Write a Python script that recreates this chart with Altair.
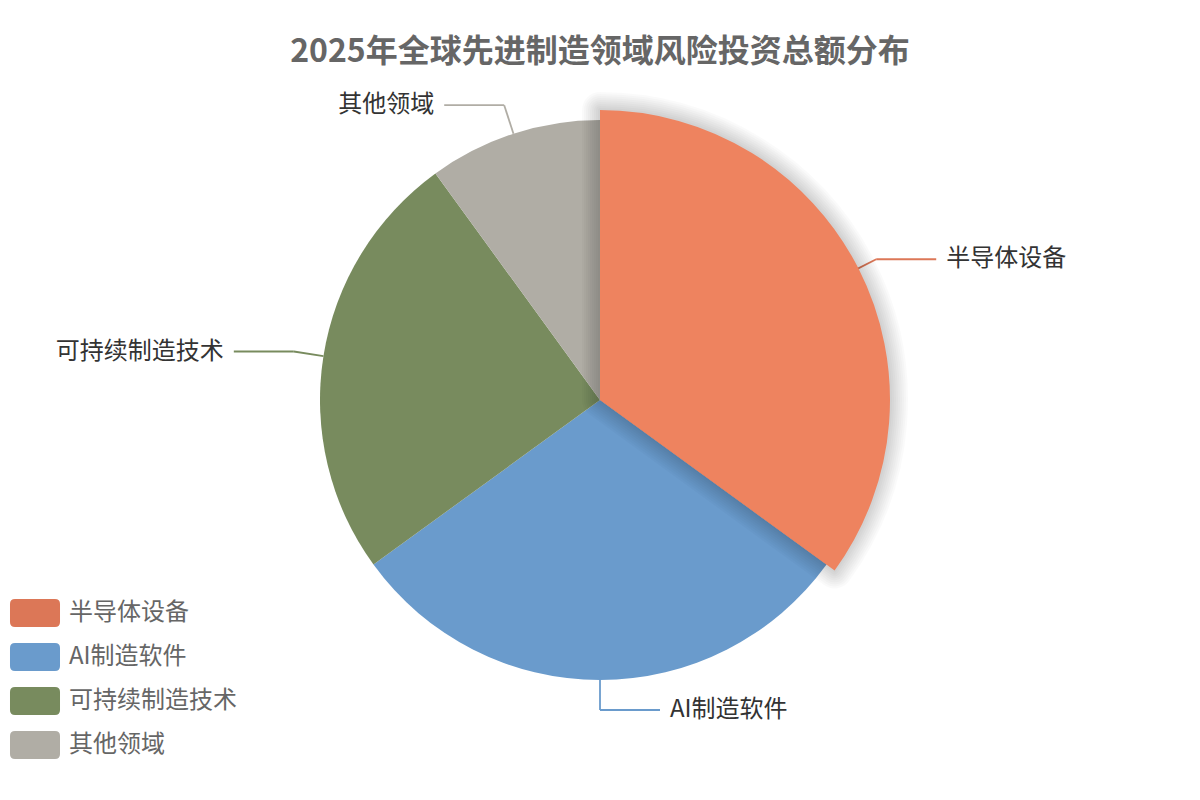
import json
import altair as alt
import pandas as pd

# ---- data ----
categories = ["半导体设备", "AI制造软件", "可持续制造技术", "其他领域"]
values = [35, 30, 25, 10]
base_colors = ["#DC7757", "#6A9BCC", "#788B5E", "#B0ADA5"]
highlight_color = "#EE835F"
title_text = "2025年全球先进制造领域风险投资总额分布"

# ---- layout / style ----
W, H = 1184, 784
CX, CY = W / 2, H / 2
R = 280
R_HI = 290
R_ELBOW = 310
LEG2 = 60
GAP = 10
FONT = "Noto Sans CJK SC"
LEGEND_SYMBOL = ("M-1.429,-1 L1.429,-1 Q1.786,-1 1.786,-0.643 L1.786,0.643 Q1.786,1 1.429,1 "
                 "L-1.429,1 Q-1.786,1 -1.786,0.643 L-1.786,-0.643 Q-1.786,-1 -1.429,-1 Z")

df = pd.DataFrame({"category": categories, "value": values, "order": list(range(len(categories)))})

base = (
    alt.Chart(df)
    .transform_joinaggregate(total="sum(value)")
    .transform_window(cum="sum(value)", sort=[alt.SortField("order", order="ascending")], frame=[None, 0])
    .transform_calculate(t0="2*PI*(datum.cum-datum.value)/datum.total")
    .transform_calculate(t1="2*PI*datum.cum/datum.total")
    .transform_calculate(mid="(datum.t0+datum.t1)/2")
    .transform_calculate(side="sin(datum.mid) >= -1e-9 ? 1 : -1")
    .transform_calculate(ex=f"{CX}+{R}*sin(datum.mid)")
    .transform_calculate(ey=f"{CY}-{R}*cos(datum.mid)")
    .transform_calculate(bx=f"{CX}+{R_ELBOW}*sin(datum.mid)")
    .transform_calculate(by=f"{CY}-{R_ELBOW}*cos(datum.mid)")
    .transform_calculate(hx=f"datum.bx + datum.side*{LEG2}")
    .transform_calculate(tx=f"datum.bx + datum.side*{LEG2 + GAP}")
    .transform_calculate(linecolor=f"{json.dumps(base_colors)}[datum.order]")
)

legend = alt.Legend(
    title=None,
    orient="none",
    legendX=13,
    legendY=591,
    symbolType=LEGEND_SYMBOL,
    symbolSize=784,
    symbolStrokeWidth=0,
    symbolOpacity=1,
    labelFontSize=24,
    labelFont=FONT,
    labelColor="#666666",
    labelOffset=20,
    labelLimit=400,
    rowPadding=16,
    padding=0,
)

# leader lines (drawn beneath slices)
rule1 = base.mark_rule(strokeWidth=1.8).encode(
    x=alt.X("ex:Q", scale=None), y=alt.Y("ey:Q", scale=None),
    x2="bx:Q", y2="by:Q",
    stroke=alt.Stroke("linecolor:N", scale=None),
)
rule2 = base.mark_rule(strokeWidth=1.8).encode(
    x=alt.X("bx:Q", scale=None), y=alt.Y("by:Q", scale=None),
    x2="hx:Q", y2="by:Q",
    stroke=alt.Stroke("linecolor:N", scale=None),
)

arcs = base.mark_arc(radius=R).encode(
    theta=alt.Theta("t0:Q", scale=None),
    theta2="t1:Q",
    color=alt.Color("category:N", scale=alt.Scale(domain=categories, range=base_colors), legend=legend),
)

hi = base.transform_filter(alt.datum.order == 0)
shadows = [
    hi.mark_arc(radius=R_HI, fillOpacity=0, stroke="#000000", strokeWidth=w,
                strokeOpacity=0.018, strokeJoin="round").encode(
        theta=alt.Theta("t0:Q", scale=None), theta2="t1:Q"
    )
    for w in range(4, 40, 4)
]
hi_arc = hi.mark_arc(radius=R_HI, color=highlight_color).encode(
    theta=alt.Theta("t0:Q", scale=None), theta2="t1:Q"
)

text_right = base.transform_filter("datum.side > 0").mark_text(
    align="left", baseline="middle", fontSize=24, font=FONT, color="#333333"
).encode(x=alt.X("tx:Q", scale=None), y=alt.Y("by:Q", scale=None), text="category:N")
text_left = base.transform_filter("datum.side < 0").mark_text(
    align="right", baseline="middle", fontSize=24, font=FONT, color="#333333"
).encode(x=alt.X("tx:Q", scale=None), y=alt.Y("by:Q", scale=None), text="category:N")

title = alt.Chart(pd.DataFrame({"t": [title_text]})).mark_text(
    align="center", baseline="middle", fontSize=32, fontWeight="bold", font=FONT, color="#666666"
).encode(text="t:N", x=alt.value(CX), y=alt.value(44))

chart = alt.layer(
    rule1, rule2, arcs, *shadows, hi_arc, text_right, text_left, title
).properties(
    width=W,
    height=H,
    padding=0,
    autosize=alt.AutoSizeParams(type="none"),
).configure_view(stroke=None)

chart.save("out.html", embed_options={"renderer": "svg", "actions": False})
